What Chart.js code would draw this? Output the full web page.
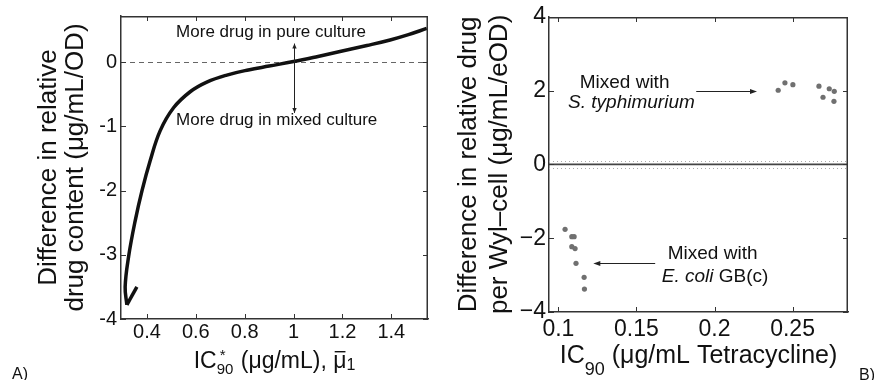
<!DOCTYPE html>
<html>
<head>
<meta charset="utf-8">
<script src="https://cdn.jsdelivr.net/npm/chart.js@4.4.1/dist/chart.umd.min.js"></script>
<style>
  body { margin: 0; background: #fff; }
  #wrap { position: relative; width: 874px; height: 380px; }
  canvas { position: absolute; top: 0; }
</style>
</head>
<body>
<div id="wrap">
  <canvas id="chartA" width="440" height="380" style="left:0"></canvas>
  <canvas id="chartB" width="434" height="380" style="left:440px"></canvas>
</div>
<script>
// panel A: model curve (first two points are the short hook at the bottom)
const curveX = [0.359, 0.318, 0.311, 0.325, 0.352, 0.380, 0.413, 0.454, 0.509, 0.577, 0.645, 0.727, 0.815, 0.9, 1.0, 1.1, 1.19, 1.3, 1.395, 1.47, 1.545];
const curveY = [-3.50, -3.78, -3.50, -3.03, -2.47, -2.00, -1.54, -1.07, -0.71, -0.46, -0.31, -0.20, -0.12, -0.06, 0.01, 0.09, 0.166, 0.26, 0.347, 0.43, 0.526];
const aXTicks = [0.4, 0.6, 0.8, 1, 1.2, 1.4];
const aYTicks = [-4, -3, -2, -1, 0];

// panel B: measured points
const styX = [0.2408, 0.2451, 0.2502, 0.2669, 0.2695, 0.2735, 0.2767, 0.2765];
const styY = [2.01, 2.21, 2.16, 2.12, 1.82, 2.05, 1.98, 1.71];
const coliX = [0.1043, 0.1086, 0.1101, 0.1086, 0.1107, 0.1113, 0.1165, 0.1167];
const coliY = [-1.76, -1.96, -1.96, -2.23, -2.28, -2.68, -3.06, -3.38];
const bXTicks = [0.1, 0.15, 0.2, 0.25];
const bYTicks = [-4, -2, 0, 2, 4];

const FONT = '"Liberation Sans", Arial, Helvetica, sans-serif';
const f = (size, style) => (style || '') + ' ' + size + 'px ' + FONT;
const pts = (xs, ys) => xs.map((x, i) => ({ x: x, y: ys[i] }));

// top/right edges of the box and inward ticks (left/bottom edges come from the axis borders)
function boxEdges(chart, xTicks, yTicks) {
  const ctx = chart.ctx, a = chart.chartArea;
  const sx = chart.scales.x, sy = chart.scales.y;
  const l = Math.round(a.left), r = Math.round(a.right);
  const t = Math.round(a.top), b = Math.round(a.bottom);
  ctx.save();
  ctx.fillStyle = '#333';
  ctx.fillRect(l, t, r - l, 1.5);
  ctx.fillRect(r - 1.5, t, 1.5, b - t);
  xTicks.forEach(v => {
    const p = Math.round(sx.getPixelForValue(v));
    ctx.fillRect(p, b - 5, 1, 5);
    ctx.fillRect(p, t, 1, 5);
  });
  yTicks.forEach(v => {
    const p = Math.round(sy.getPixelForValue(v));
    ctx.fillRect(l, p, 5, 1);
    ctx.fillRect(r - 5, p, 5, 1);
  });
  ctx.restore();
}

function arrowHead(ctx, x1, y1, x2, y2, len, w) {
  const ang = Math.atan2(y2 - y1, x2 - x1);
  ctx.beginPath();
  ctx.moveTo(x2, y2);
  ctx.lineTo(x2 - len * Math.cos(ang) + w * Math.sin(ang), y2 - len * Math.sin(ang) - w * Math.cos(ang));
  ctx.lineTo(x2 - len * Math.cos(ang) - w * Math.sin(ang), y2 - len * Math.sin(ang) + w * Math.cos(ang));
  ctx.closePath();
  ctx.fill();
}

function yTitle(ctx, lines, xs, cy, size) {
  ctx.save();
  ctx.font = f(size);
  ctx.fillStyle = '#111';
  ctx.textAlign = 'center';
  ctx.textBaseline = 'middle';
  lines.forEach((s, i) => {
    ctx.save();
    ctx.translate(xs[i], cy);
    ctx.rotate(-Math.PI / 2);
    ctx.fillText(s, 0, 0);
    ctx.restore();
  });
  ctx.restore();
}

const panelA = {
  id: 'panelA',
  beforeDatasetsDraw(chart) {
    const ctx = chart.ctx, a = chart.chartArea;
    const y0 = Math.round(chart.scales.y.getPixelForValue(0)) + 0.5;
    ctx.save();
    ctx.strokeStyle = '#666';
    ctx.lineWidth = 1;
    ctx.setLineDash([5, 4]);
    ctx.beginPath();
    ctx.moveTo(a.left, y0); ctx.lineTo(a.right, y0);
    ctx.stroke();
    ctx.restore();
  },
  afterDraw(chart) {
    const ctx = chart.ctx, a = chart.chartArea;
    const sx = chart.scales.x, sy = chart.scales.y;
    ctx.save();
    ctx.fillStyle = '#111';
    ctx.strokeStyle = '#222';
    ctx.font = f(17);
    ctx.textAlign = 'center';
    ctx.textBaseline = 'alphabetic';
    ctx.fillText('More drug in pure culture', sx.getPixelForValue(0.908), sy.getPixelForValue(0.39));
    ctx.fillText('More drug in mixed culture', sx.getPixelForValue(0.931), sy.getPixelForValue(-0.98));
    // double arrow at x = 1
    const ax = Math.round(sx.getPixelForValue(1)) + 0.5;
    const ya = sy.getPixelForValue(0.29), yb = sy.getPixelForValue(-0.79);
    ctx.lineWidth = 1;
    ctx.beginPath();
    ctx.moveTo(ax, ya); ctx.lineTo(ax, yb);
    ctx.stroke();
    ctx.fillStyle = '#222';
    arrowHead(ctx, ax, ya + 10, ax, ya, 5, 2.2);
    arrowHead(ctx, ax, yb - 10, ax, yb, 5, 2.2);

    // axis titles
    yTitle(ctx, ['Difference in relative', 'drug content (\u03bcg/mL/OD)'], [49, 76], (a.top + a.bottom) / 2, 26);

    ctx.fillStyle = '#111';
    ctx.textAlign = 'left';
    const base = 368;
    ctx.font = f(23); const wIC = ctx.measureText('IC').width;
    const wRest = ctx.measureText(' (\u03bcg/mL), ').width;
    const wMu = ctx.measureText('\u03bc').width;
    ctx.font = f(15); const w90 = ctx.measureText('90').width;
    ctx.font = f(16); const w1 = ctx.measureText('1').width;
    const total = wIC + w90 + 1 + wRest + wMu + w1;
    let x = (a.left + a.right) / 2 - total / 2;
    ctx.font = f(23); ctx.fillText('IC', x, base); x += wIC;
    ctx.font = f(15); ctx.fillText('*', x + 3, base - 8); ctx.fillText('90', x, base + 6); x += w90 + 1;
    ctx.font = f(23); ctx.fillText(' (\u03bcg/mL), ', x, base); x += wRest;
    ctx.fillText('\u03bc', x, base);
    ctx.fillRect(x + 1.5, base - 17, wMu - 2.5, 1.4);
    x += wMu;
    ctx.font = f(16); ctx.fillText('1', x, base + 2);

    ctx.font = f(16);
    ctx.fillText('A)', 12, 379);
    ctx.restore();
    boxEdges(chart, aXTicks, aYTicks);
  }
};

const panelB = {
  id: 'panelB',
  beforeDatasetsDraw(chart) {
    const ctx = chart.ctx, a = chart.chartArea, sy = chart.scales.y;
    ctx.save();
    ctx.strokeStyle = '#aaa';
    ctx.lineWidth = 1;
    ctx.setLineDash([1, 3]);
    [0.1, -0.1].forEach(v => {
      const p = Math.round(sy.getPixelForValue(v)) + 0.5;
      ctx.beginPath(); ctx.moveTo(a.left, p); ctx.lineTo(a.right, p); ctx.stroke();
    });
    ctx.setLineDash([]);
    ctx.strokeStyle = '#444';
    ctx.lineWidth = 1.6;
    const p0 = sy.getPixelForValue(0);
    ctx.beginPath(); ctx.moveTo(a.left, p0); ctx.lineTo(a.right, p0); ctx.stroke();
    ctx.restore();
  },
  afterDraw(chart) {
    const ctx = chart.ctx, a = chart.chartArea;
    const sx = chart.scales.x, sy = chart.scales.y;
    ctx.save();
    ctx.fillStyle = '#111';
    ctx.textAlign = 'center';
    ctx.font = f(19);
    ctx.fillText('Mixed with', sx.getPixelForValue(0.1424), sy.getPixelForValue(2.08));
    ctx.font = f(19, 'italic');
    ctx.fillText('S. typhimurium', sx.getPixelForValue(0.1468), sy.getPixelForValue(1.52));
    ctx.font = f(19);
    ctx.fillText('Mixed with', sx.getPixelForValue(0.1988), sy.getPixelForValue(-2.555));
    // "E. coli GB(c)" mixed italic / upright
    ctx.textAlign = 'left';
    ctx.font = f(19, 'italic'); const wE = ctx.measureText('E. coli ').width;
    ctx.font = f(19); const wG = ctx.measureText('GB(c)').width;
    const ex = sx.getPixelForValue(0.2004) - (wE + wG) / 2;
    const ey = sy.getPixelForValue(-3.19);
    ctx.font = f(19, 'italic'); ctx.fillText('E. coli ', ex, ey);
    ctx.font = f(19); ctx.fillText('GB(c)', ex + wE, ey);

    // arrows
    ctx.strokeStyle = '#222';
    ctx.fillStyle = '#222';
    ctx.lineWidth = 1;
    const u1 = sx.getPixelForValue(0.1883), u2 = sx.getPixelForValue(0.2272), uy = Math.round(sy.getPixelForValue(1.98)) + 0.5;
    ctx.beginPath(); ctx.moveTo(u1, uy); ctx.lineTo(u2 - 4, uy); ctx.stroke();
    arrowHead(ctx, u1, uy, u2, uy, 7, 2.5);
    const l1 = sx.getPixelForValue(0.162), l2 = sx.getPixelForValue(0.1224), ly = Math.round(sy.getPixelForValue(-2.67)) + 0.5;
    ctx.beginPath(); ctx.moveTo(l1, ly); ctx.lineTo(l2 + 4, ly); ctx.stroke();
    arrowHead(ctx, l1, ly, l2, ly, 7, 2.5);

    yTitle(ctx, ['Difference in relative drug', 'per Wyl\u2013cell (\u03bcg/mL/eOD)'], [29, 60], (a.top + a.bottom) / 2, 26);

    ctx.fillStyle = '#111';
    ctx.textAlign = 'left';
    const base = 363;
    ctx.font = f(25); const wIC = ctx.measureText('IC').width;
    const wRest = ctx.measureText(' (\u03bcg/mL Tetracycline)').width;
    ctx.font = f(18); const w90 = ctx.measureText('90').width;
    let x = (a.left + a.right) / 2 - (wIC + w90 + wRest) / 2;
    ctx.font = f(25); ctx.fillText('IC', x, base); x += wIC;
    ctx.font = f(18); ctx.fillText('90', x, base + 12); x += w90;
    ctx.font = f(25); ctx.fillText(' (\u03bcg/mL Tetracycline)', x, base);

    ctx.font = f(16);
    ctx.fillText('B)', 419, 380);
    ctx.restore();
    boxEdges(chart, bXTicks, bYTicks);
  }
};

const common = {
  responsive: false,
  animation: false,
  plugins: { legend: { display: false }, tooltip: { enabled: false } }
};

const curveStyle = {
  showLine: true,
  pointRadius: 0,
  borderColor: '#111',
  borderWidth: 3.5,
  borderCapStyle: 'butt',
  borderJoinStyle: 'miter'
};

const axisBorder = { display: true, color: '#333', width: 1.5 };

new Chart(document.getElementById('chartA'), {
  type: 'scatter',
  data: {
    datasets: [
      Object.assign({ data: pts(curveX.slice(0, 2), curveY.slice(0, 2)), tension: 0 }, curveStyle),
      Object.assign({ data: pts(curveX.slice(1), curveY.slice(1)), tension: 0.4 }, curveStyle)
    ]
  },
  options: Object.assign({}, common, {
    layout: { padding: { left: 0, top: 14, right: 12, bottom: 0 } },
    scales: {
      x: {
        type: 'linear', min: 0.294, max: 1.55,
        afterBuildTicks: s => { s.ticks = aXTicks.map(v => ({ value: v })); },
        afterFit: s => { s.height = 61; },
        grid: { display: false, drawTicks: false },
        border: axisBorder,
        ticks: { font: { family: FONT, size: 20 }, color: '#111', padding: 1, maxRotation: 0, autoSkip: false, callback: v => String(v) }
      },
      y: {
        type: 'linear', min: -4, max: 0.72,
        afterBuildTicks: s => { s.ticks = aYTicks.map(v => ({ value: v })); },
        afterFit: s => { s.width = 121; },
        grid: { display: false, drawTicks: false },
        border: axisBorder,
        ticks: { font: { family: FONT, size: 20 }, color: '#111', padding: 4, callback: v => String(v) }
      }
    }
  }),
  plugins: [panelA]
});

new Chart(document.getElementById('chartB'), {
  type: 'scatter',
  data: {
    datasets: [
      { data: pts(styX, styY), pointRadius: 2.6, backgroundColor: '#707070', borderWidth: 0 },
      { data: pts(coliX, coliY), pointRadius: 2.6, backgroundColor: '#707070', borderWidth: 0 }
    ]
  },
  options: Object.assign({}, common, {
    layout: { padding: { left: 0, top: 14, right: 26, bottom: 0 } },
    scales: {
      x: {
        type: 'linear', min: 0.094, max: 0.2855,
        afterBuildTicks: s => { s.ticks = bXTicks.map(v => ({ value: v })); },
        afterFit: s => { s.height = 68; },
        grid: { display: false, drawTicks: false },
        border: axisBorder,
        ticks: { font: { family: FONT, size: 23 }, color: '#111', padding: 4, maxRotation: 0, autoSkip: false, callback: v => String(v) }
      },
      y: {
        type: 'linear', min: -4, max: 4,
        afterBuildTicks: s => { s.ticks = bYTicks.map(v => ({ value: v })); },
        afterFit: s => { s.width = 109; },
        grid: { display: false, drawTicks: false },
        border: axisBorder,
        ticks: { font: { family: FONT, size: 23 }, color: '#111', padding: 3, callback: v => v < 0 ? '\u2212' + (-v) : String(v) }
      }
    }
  }),
  plugins: [panelB]
});
</script>
</body>
</html>
